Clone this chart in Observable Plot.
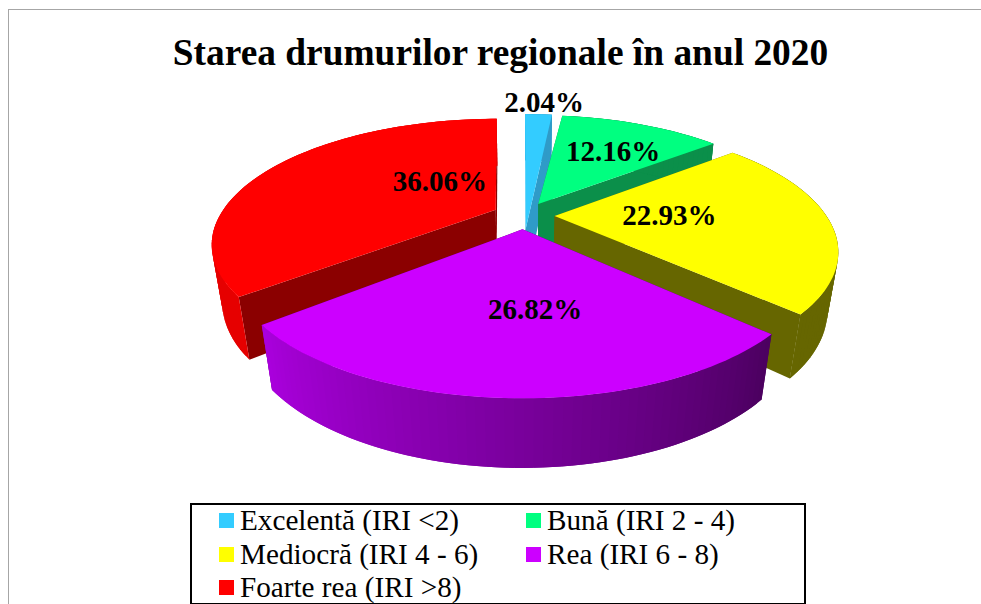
<!DOCTYPE html>
<html>
<head>
<meta charset="utf-8">
<script src="https://cdn.jsdelivr.net/npm/d3@7"></script>
<script src="https://cdn.jsdelivr.net/npm/@observablehq/plot@0.6"></script>
<style>
  html, body { margin: 0; padding: 0; background: #fff; }
  #page { position: relative; width: 981px; height: 604px; overflow: hidden; font-family: "Liberation Serif", serif; color: #000; }
  #frame { position: absolute; left: 8px; top: 9px; width: 990px; height: 620px; border: 1px solid #a6a6a6; }
  #title { position: absolute; left: 0; width: 1001px; top: 31px; text-align: center; font-weight: bold; font-size: 37.4px; line-height: 44px; white-space: nowrap; }
  #chart { position: absolute; left: 0; top: 0; }
  #legend { position: absolute; left: 190px; top: 503px; width: 612px; height: 98px; border: 2px solid #000; background: #fff; }
  .item { position: absolute; font-size: 29.2px; line-height: 30px; white-space: nowrap; }
  .sw { position: absolute; width: 15px; height: 15px; left: -21px; top: 8px; }
</style>
</head>
<body>
<div id="page">
  <div id="frame"></div>
  <div id="chart"></div>
  <div id="title"></div>
  <div id="legend"></div>
</div>
<script>
// ---- data ----
const chartTitle = "Starea drumurilor regionale în anul 2020";
const categories = ["Excelentă (IRI <2)", "Bună (IRI 2 - 4)", "Mediocră (IRI 4 - 6)", "Rea (IRI 6 - 8)", "Foarte rea (IRI >8)"];
const shares = [2.04, 12.16, 22.93, 26.82, 36.06];
const colors = ["#33ccff", "#00ff80", "#ffff00", "#cc00ff", "#ff0000"];
const radialSide = ["#2f9bc8", "#0b8f4a", "#666600", "#4b005f", "#8b0000"];
const rimFrom = ["#2f9bc8", "#0b8f4a", "#666600", "#4b005f", "#e60000"];
const rimTo = ["#2f9bc8", "#0b8f4a", "#666600", "#aa00dd", "#e60000"];

// ---- pie camera (perspective disk, exploded slices) ----
const cam = {cx: 523, cy: 215, a: 117, b: 270, p: 0.257, q: 0.033, g: 58, explode: 0.115};
const project = (u, v, h) => {
  const w = 1 - cam.p * v + cam.q * h;
  return {x: cam.cx + cam.b * u / w, y: cam.cy + (cam.a * v + cam.g * h) / w};
};
// Label anchors expressed on the disk plane
const labelU = [0.102, 0.386, 0.54, 0.036, -0.335];
const labelV = [-1.275, -0.631, 0, 0.668, -0.312];
const apexShiftV = [0.23, 0, 0, 0, 0];
const rimWiden = [1, 1, 1.006, 1.012, 1];
const rimShiftU = [0, 0, 0, 0, -0.022];
const drawOrder = [4, 0, 1, 2, 3];

const total = d3.sum(shares);
let acc = 0;
const slices = shares.map((s, i) => {
  const a0 = acc / total * 2 * Math.PI;
  acc += s;
  const a1 = acc / total * 2 * Math.PI;
  const mid = (a0 + a1) / 2;
  return {i, a0, a1, ou: Math.sin(mid) * cam.explode, ov: -Math.cos(mid) * cam.explode};
});

const rows = [];
let zId = 0;
const poly = (pts, fill) => { const z = zId++; pts.forEach(p => rows.push({x: p.x, y: p.y, z, fill})); };

for (const k of drawOrder) {
  const sl = slices[k];
  const rim = (a, h) => project(sl.ou + rimShiftU[k] + rimWiden[k] * Math.sin(a), sl.ov - Math.cos(a), h);
  const apex = h => project(sl.ou, sl.ov + apexShiftV[k], h);
  // radial side faces
  poly([rim(sl.a0, 0), apex(0), apex(1), rim(sl.a0, 1)], radialSide[k]);
  poly([rim(sl.a1, 0), apex(0), apex(1), rim(sl.a1, 1)], radialSide[k]);
  // outer rim side, in narrow overlapping strips so the shading can vary without seams
  const n = Math.max(2, Math.ceil((sl.a1 - sl.a0) / (1.5 * Math.PI / 180)));
  const step = (sl.a1 - sl.a0) / n;
  const shade = d3.interpolateRgb(rimFrom[k], rimTo[k]);
  for (let j = 0; j < n; j++) {
    const t0 = sl.a0 + step * j;
    const t1 = j < n - 1 ? t0 + 2 * step : t0 + step;
    poly([rim(t0, 0), rim(t1, 0), rim(t1, 1), rim(t0, 1)], shade((j + 0.5) / n));
  }
  // top face
  const top = [apex(0)];
  for (let j = 0; j <= n; j++) top.push(rim(sl.a0 + step * j, 0));
  poly(top, colors[k]);
}

const labels = shares.map((s, i) => {
  const p = project(labelU[i], labelV[i], 0);
  return {x: p.x, y: p.y, text: s.toFixed(2) + "%"};
});

const plot = Plot.plot({
  width: 981, height: 604,
  margin: 0,
  x: {domain: [0, 981], range: [0, 981], axis: null},
  y: {domain: [0, 604], range: [0, 604], axis: null},
  color: {type: "identity"},
  style: {background: "transparent"},
  marks: [
    Plot.line(rows, {x: "x", y: "y", z: "z", fill: "fill", strokeWidth: 0, curve: "linear-closed"}),
    Plot.text(labels, {x: "x", y: "y", text: "text", fontFamily: "Liberation Serif", fontWeight: "bold", fontSize: 29, fill: "#000", textAnchor: "middle", lineAnchor: "middle"})
  ]
});
document.getElementById("chart").appendChild(plot);

document.getElementById("title").textContent = chartTitle;
const legend = d3.select("#legend");
const legendCols = [48, 355];
const legendRowStep = 33.5;
categories.forEach((c, i) => {
  const item = legend.append("div").attr("class", "item")
    .style("left", legendCols[i % 2] + "px")
    .style("top", (Math.floor(i / 2) * legendRowStep) + "px");
  item.append("span").attr("class", "sw").style("background", colors[i]);
  item.append("span").text(c);
});
</script>
</body>
</html>
